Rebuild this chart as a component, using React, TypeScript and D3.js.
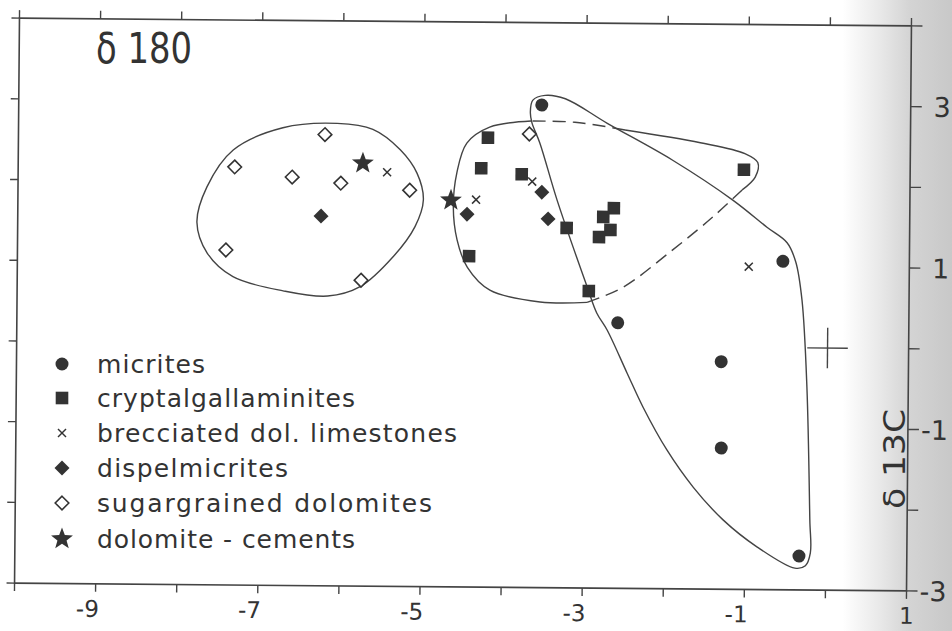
import React from "react";
import * as d3 from "d3";

const W = 952;
const H = 631;

// d18O (x), d13C (y)
const micrites: [number, number][] = [
  [-3.55, 2.98], [-0.56, 1.07], [-2.59, 0.29], [-1.31, -0.18], [-1.3, -1.25], [-0.33, -2.58],
];
const cryptalgallaminites: [number, number][] = [
  [-4.21, 2.57], [-4.29, 2.19], [-3.79, 2.12], [-1.05, 2.2], [-3.23, 1.46], [-2.65, 1.71],
  [-2.78, 1.6], [-2.69, 1.44], [-2.83, 1.35], [-4.43, 1.1], [-2.95, 0.68],
];
const brecciated: [number, number][] = [
  [-5.45, 2.13], [-4.35, 1.8], [-3.66, 2.03], [-0.98, 1.0],
];
const dispelmicrites: [number, number][] = [
  [-6.26, 1.58], [-4.46, 1.62], [-3.54, 1.9], [-3.46, 1.57],
];
const sugargrained: [number, number][] = [
  [-6.22, 2.59], [-7.33, 2.18], [-6.62, 2.06], [-6.02, 1.99], [-5.17, 1.91],
  [-7.43, 1.15], [-5.76, 0.79], [-3.7, 2.62],
];
const cements: [number, number][] = [
  [-5.75, 2.24], [-4.66, 1.79],
];

// envelopes (closed or partial outlines)
const envelopeDolomite: [number, number][] = [
  [-6.07, 2.73], [-6.74, 2.67], [-7.35, 2.39], [-7.67, 1.93], [-7.79, 1.49], [-7.66, 1.11],
  [-7.34, 0.82], [-6.72, 0.65], [-6.17, 0.59], [-5.77, 0.71], [-5.37, 1.08], [-5.1, 1.46],
  [-5.0, 1.79], [-5.08, 2.12], [-5.29, 2.41], [-5.63, 2.66],
];
const envelopeMiddleSolidA: [number, number][] = [
  [-3.68, 2.78], [-4.19, 2.7], [-4.47, 2.5], [-4.59, 2.13], [-4.63, 1.71], [-4.58, 1.3],
  [-4.45, 0.96], [-4.17, 0.68], [-3.55, 0.54], [-2.97, 0.54],
];
const envelopeMiddleDashedB: [number, number][] = [
  [-2.97, 0.54], [-2.53, 0.73], [-1.92, 1.2], [-1.43, 1.61], [-1.07, 1.95],
];
const envelopeMiddleSolidC: [number, number][] = [
  [-1.07, 1.95], [-0.91, 2.11], [-0.88, 2.29], [-1.04, 2.4], [-1.59, 2.53], [-2.52, 2.68],
];
const envelopeMiddleDashedD: [number, number][] = [
  [-2.52, 2.68], [-3.14, 2.77], [-3.68, 2.78],
];
const envelopeMicrites: [number, number][] = [
  [-3.69, 2.89], [-3.66, 3.04], [-3.51, 3.1], [-3.26, 3.06], [-2.74, 2.76], [-1.93, 2.31],
  [-1.18, 1.82], [-0.76, 1.49], [-0.51, 1.3], [-0.4, 1.06], [-0.32, 0.59], [-0.25, -0.49],
  [-0.2, -2.13], [-0.19, -2.54], [-0.25, -2.7], [-0.38, -2.73], [-0.85, -2.47], [-1.27, -2.14],
  [-1.64, -1.74], [-1.97, -1.28], [-2.27, -0.75], [-2.47, -0.33], [-2.72, 0.2], [-2.85, 0.41],
  [-2.97, 0.73], [-3.35, 1.8], [-3.57, 2.51], [-3.67, 2.76],
];

// analytical precision cross at origin
const precisionCenter: [number, number] = [0, 0];
const precisionHalf = 0.25;

const xDomain: [number, number] = [-10, 1];
const yDomain: [number, number] = [-3, 4];
const xTickLabels = [-9, -7, -5, -3, -1, 1];
const yTickLabels = [3, 1, -1, -3];

const legendItems = [
  { key: "circle", label: "micrites" },
  { key: "square", label: "cryptalgallaminites" },
  { key: "cross", label: "brecciated dol. limestones" },
  { key: "diamond", label: "dispelmicrites" },
  { key: "odiamond", label: "sugargrained dolomites" },
  { key: "star", label: "dolomite - cements" },
];
const legendWidths = [108, 258, 360, 191, 335, 258];

const INK = "#333";
const LINE = "#444";
const FONT = "'DejaVu Sans', 'Noto Sans', sans-serif";

function starPath(R: number, r: number) {
  const pts: [number, number][] = [];
  for (let i = 0; i < 10; i++) {
    const a = -Math.PI / 2 + (i * Math.PI) / 5;
    const rad = i % 2 === 0 ? R : r;
    pts.push([Math.cos(a) * rad, Math.sin(a) * rad]);
  }
  return d3.line()(pts)! + "Z";
}
function diamondPath(r: number) {
  return d3.line()([[0, -r], [r, 0], [0, r], [-r, 0]])! + "Z";
}

function Marker({ kind, cx, cy }: { kind: string; cx: number; cy: number }) {
  const t = `translate(${cx},${cy})`;
  switch (kind) {
    case "circle":
      return <circle cx={cx} cy={cy} r={6.5} fill={INK} />;
    case "square":
      return <rect x={cx - 6.3} y={cy - 6.3} width={12.6} height={12.6} fill={INK} />;
    case "cross":
      return (
        <g transform={t} stroke={INK} strokeWidth={1.5}>
          <line x1={-4} y1={-4} x2={4} y2={4} />
          <line x1={-4} y1={4} x2={4} y2={-4} />
        </g>
      );
    case "diamond":
      return <path transform={t} d={diamondPath(7.5)} fill={INK} />;
    case "odiamond":
      return <path transform={t} d={diamondPath(6.8)} fill="#fff" stroke={INK} strokeWidth={1.6} />;
    case "star":
      return <path transform={t} d={starPath(11.5, 4.8)} fill={INK} />;
    default:
      return null;
  }
}

export default function App() {
  const x = d3.scaleLinear().domain(xDomain).range([17, 909]);
  const y = d3.scaleLinear().domain(yDomain).range([587, 22]);
  const [x0, x1] = x.range();
  const [y0, y1] = y.range();

  const closed = d3
    .line<[number, number]>()
    .x((d) => x(d[0]))
    .y((d) => y(d[1]))
    .curve(d3.curveCatmullRomClosed.alpha(0.5));
  const open = d3
    .line<[number, number]>()
    .x((d) => x(d[0]))
    .y((d) => y(d[1]))
    .curve(d3.curveCatmullRom.alpha(0.5));

  const xt = x.ticks(11);
  const yt = y.ticks(7);

  const series: { kind: string; data: [number, number][] }[] = [
    { kind: "circle", data: micrites },
    { kind: "square", data: cryptalgallaminites },
    { kind: "diamond", data: dispelmicrites },
    { kind: "odiamond", data: sugargrained },
    { kind: "cross", data: brecciated },
    { kind: "star", data: cements },
  ];

  const legendBaselines = [373, 407, 442, 477, 512, 548];

  return (
    <svg
      width={W}
      height={H}
      style={{ position: "absolute", left: 0, top: 0, background: "#fff" }}
      fontFamily={FONT}
    >
      <defs>
        <linearGradient id="shade" x1="0" x2="1" y1="0" y2="0">
          <stop offset="0.885" stopColor="#ffffff" />
          <stop offset="0.925" stopColor="#e8e8e8" />
          <stop offset="0.955" stopColor="#d4d4d4" />
          <stop offset="1" stopColor="#c8c8c8" />
        </linearGradient>
      </defs>
      <rect x={0} y={0} width={W} height={H} fill="url(#shade)" />

      <g transform="rotate(0.5 463 304)">
        {/* frame */}
        <rect x={x0} y={y1} width={x1 - x0} height={y0 - y1} fill="none" stroke={LINE} strokeWidth={1.6} />
        {xt.map((t) => (
          <g key={"xt" + t} stroke={LINE} strokeWidth={1.4}>
            <line x1={x(t)} x2={x(t)} y1={y0} y2={y0 + 8} />
            <line x1={x(t)} x2={x(t)} y1={y1} y2={y1 - 8} />
          </g>
        ))}
        {yt.map((t) => (
          <g key={"yt" + t} stroke={LINE} strokeWidth={1.4}>
            <line x1={x0} x2={x0 - 8} y1={y(t)} y2={y(t)} />
            <line x1={x1} x2={x1 + 11} y1={y(t)} y2={y(t)} />
          </g>
        ))}
        {xTickLabels.map((t) => (
          <text
            key={"xl" + t}
            x={x(t) - (t < 0 ? 8 : 0)}
            y={620}
            textAnchor="middle"
            fontSize={23}
            fill={INK}
          >
            {t < 0 ? "-" + Math.abs(t) : String(t)}
          </text>
        ))}
        {yTickLabels.map((t) => (
          <text key={"yl" + t} x={949} y={y(t) + 10} textAnchor="end" fontSize={27} fill={INK}>
            {t < 0 ? "-" + Math.abs(t) : String(t)}
          </text>
        ))}

        {/* envelopes */}
        <g fill="none" stroke={LINE} strokeWidth={1.4}>
          <path d={closed(envelopeDolomite)!} />
          <path d={closed(envelopeMicrites)!} />
          <path d={open(envelopeMiddleSolidA)!} />
          <path d={open(envelopeMiddleSolidC)!} />
          <path d={open(envelopeMiddleDashedB)!} strokeDasharray="13 7" />
          <path d={open(envelopeMiddleDashedD)!} strokeDasharray="13 7" />
        </g>

        {/* precision cross */}
        <g stroke={LINE} strokeWidth={1.4}>
          <line
            x1={x(precisionCenter[0] - precisionHalf)}
            x2={x(precisionCenter[0] + precisionHalf)}
            y1={y(precisionCenter[1])}
            y2={y(precisionCenter[1])}
          />
          <line
            x1={x(precisionCenter[0])}
            x2={x(precisionCenter[0])}
            y1={y(precisionCenter[1] - precisionHalf)}
            y2={y(precisionCenter[1] + precisionHalf)}
          />
        </g>

        {/* points */}
        {series.map((s) =>
          s.data.map((d, i) => <Marker key={s.kind + i} kind={s.kind} cx={x(d[0])} cy={y(d[1])} />)
        )}
      </g>

      {/* titles */}
      <text x={96} y={63} fontSize={42} fill={INK} textLength={96} lengthAdjust="spacingAndGlyphs">
        δ 180
      </text>
      <text
        transform="translate(905,509) rotate(-90)"
        fontSize={31}
        fill={INK}
        textLength={100}
        lengthAdjust="spacingAndGlyphs"
      >
        δ 13C
      </text>

      {/* legend */}
      {legendItems.map((it, i) => (
        <g key={it.key}>
          <Marker kind={it.key} cx={62} cy={legendBaselines[i] - 9} />
          <text
            x={97}
            y={legendBaselines[i]}
            fontSize={25}
            fill={INK}
            textLength={legendWidths[i]}
            lengthAdjust="spacing"
          >
            {it.label}
          </text>
        </g>
      ))}
    </svg>
  );
}
